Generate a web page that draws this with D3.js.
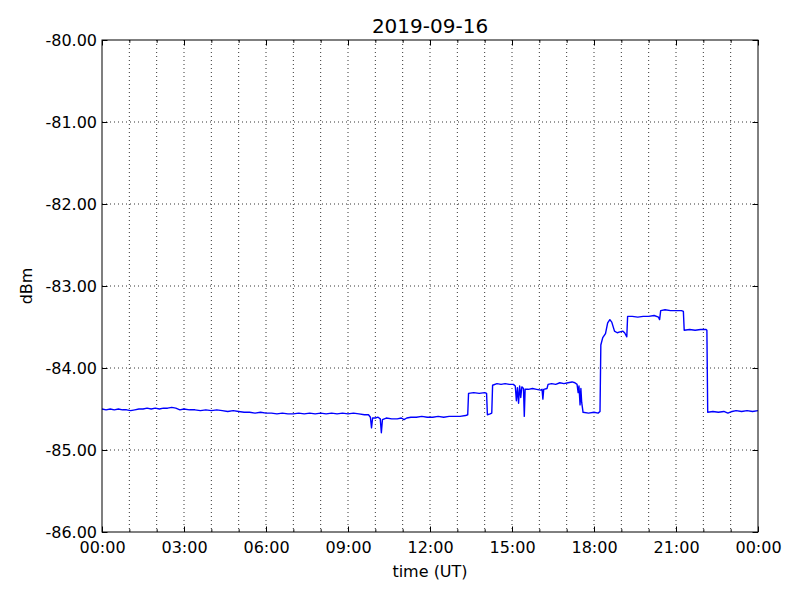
<!DOCTYPE html>
<html>
<head>
<meta charset="utf-8">
<script src="https://cdn.jsdelivr.net/npm/d3@7"></script>
<style>
  body { margin: 0; background: #fff; }
  svg text { font-family: "DejaVu Sans", sans-serif; fill: #000; }
</style>
</head>
<body>
<svg id="chart" width="800" height="600"></svg>
<script>
// --- Data ---
const title = "2019-09-16";
const xLabel = "time (UT)";
const yLabel = "dBm";
const yTicks = [-86, -85, -84, -83, -82, -81, -80];
const majorHours = [0, 3, 6, 9, 12, 15, 18, 21, 24];

// [hour of day (UT), level in dBm]
const trace = [
    [0.00,-84.50],[0.15,-84.51],[0.30,-84.50],[0.45,-84.51],[0.60,-84.50],[0.75,-84.51],
    [0.90,-84.51],[1.05,-84.52],[1.20,-84.51],[1.35,-84.50],[1.50,-84.50],[1.65,-84.49],
    [1.80,-84.50],[1.95,-84.49],[2.10,-84.50],[2.25,-84.49],[2.40,-84.49],[2.55,-84.48],
    [2.70,-84.49],[2.85,-84.51],[3.00,-84.50],[3.20,-84.51],[3.40,-84.51],[3.60,-84.52],
    [3.80,-84.51],[4.00,-84.52],[4.20,-84.51],[4.40,-84.52],[4.60,-84.53],[4.80,-84.52],
    [5.00,-84.53],[5.20,-84.54],[5.40,-84.54],[5.60,-84.55],[5.80,-84.54],[6.00,-84.55],
    [6.20,-84.55],[6.40,-84.56],[6.60,-84.55],[6.80,-84.56],[7.00,-84.56],[7.20,-84.55],
    [7.40,-84.56],[7.60,-84.55],[7.80,-84.56],[8.00,-84.55],[8.20,-84.56],[8.40,-84.55],
    [8.60,-84.56],[8.80,-84.55],[9.00,-84.56],[9.20,-84.55],[9.40,-84.56],[9.60,-84.57],
    [9.75,-84.57],[9.82,-84.60],[9.86,-84.73],[9.90,-84.61],[10.00,-84.61],[10.10,-84.60],
    [10.18,-84.62],[10.22,-84.79],[10.26,-84.63],[10.40,-84.61],[10.60,-84.62],[10.80,-84.62],
    [10.95,-84.61],[11.05,-84.63],[11.15,-84.61],[11.30,-84.60],[11.50,-84.60],[11.70,-84.59],
    [11.90,-84.60],[12.10,-84.60],[12.30,-84.59],[12.50,-84.60],[12.70,-84.59],[12.90,-84.59],
    [13.10,-84.59],[13.30,-84.58],[13.38,-84.57],[13.41,-84.31],[13.60,-84.30],[13.80,-84.31],
    [14.00,-84.30],[14.07,-84.31],[14.10,-84.57],[14.20,-84.56],[14.26,-84.55],[14.29,-84.21],
    [14.45,-84.19],[14.60,-84.20],[14.75,-84.19],[14.90,-84.20],[15.05,-84.20],[15.12,-84.22],
    [15.16,-84.40],[15.20,-84.24],[15.24,-84.43],[15.28,-84.22],[15.32,-84.36],[15.36,-84.23],
    [15.42,-84.25],[15.45,-84.59],[15.48,-84.26],[15.60,-84.26],[15.75,-84.25],[15.90,-84.26],
    [16.05,-84.27],[16.10,-84.26],[16.13,-84.38],[16.16,-84.26],[16.28,-84.25],[16.32,-84.20],
    [16.45,-84.19],[16.60,-84.20],[16.75,-84.18],[16.90,-84.19],[17.05,-84.18],[17.20,-84.17],
    [17.30,-84.18],[17.38,-84.20],[17.42,-84.30],[17.45,-84.22],[17.49,-84.45],[17.52,-84.25],
    [17.55,-84.42],[17.60,-84.54],[17.80,-84.55],[18.00,-84.54],[18.15,-84.55],[18.22,-84.53],
    [18.25,-83.72],[18.32,-83.63],[18.42,-83.58],[18.50,-83.45],[18.58,-83.41],[18.65,-83.44],
    [18.75,-83.55],[18.85,-83.57],[18.95,-83.56],[19.05,-83.55],[19.12,-83.57],[19.20,-83.62],
    [19.23,-83.37],[19.40,-83.37],[19.60,-83.38],[19.80,-83.37],[20.00,-83.37],[20.20,-83.36],
    [20.36,-83.38],[20.40,-83.41],[20.44,-83.30],[20.60,-83.29],[20.80,-83.30],[21.00,-83.30],
    [21.20,-83.30],[21.27,-83.31],[21.30,-83.54],[21.50,-83.53],[21.70,-83.54],[21.90,-83.53],
    [22.10,-83.53],[22.13,-83.54],[22.16,-84.54],[22.35,-84.53],[22.55,-84.54],[22.75,-84.53],
    [22.90,-84.55],[23.05,-84.53],[23.20,-84.52],[23.40,-84.53],[23.60,-84.52],[23.80,-84.53],
    [24.00,-84.52]
];

// --- Layout ---
const margin = { top: 40, right: 42, bottom: 68, left: 102 };
const width = 800 - margin.left - margin.right;
const height = 600 - margin.top - margin.bottom;

const day0 = Date.UTC(2019, 8, 16);
const toDate = h => new Date(day0 + h * 3600 * 1000);

const x = d3.scaleUtc()
    .domain([toDate(0), toDate(24)])
    .range([0, width]);

const y = d3.scaleLinear()
    .domain([-86, -80])
    .range([height, 0]);

const svg = d3.select("#chart");
const g = svg.append("g").attr("transform", `translate(${margin.left},${margin.top})`);

const hourTicks = d3.range(0, 25).map(toDate);
const majorTicks = majorHours.map(toDate);
const minorTicks = hourTicks.filter(d => !majorTicks.some(m => +m === +d));

// --- Grid (dotted) ---
g.append("g")
    .selectAll("line")
    .data(hourTicks.slice(1, -1))
    .join("line")
    .attr("x1", d => x(d)).attr("x2", d => x(d))
    .attr("y1", 0).attr("y2", height)
    .attr("stroke", "#000").attr("stroke-width", 0.8)
    .attr("stroke-dasharray", "1,3");

g.append("g")
    .selectAll("line")
    .data(yTicks.slice(1, -1))
    .join("line")
    .attr("x1", 0).attr("x2", width)
    .attr("y1", d => y(d)).attr("y2", d => y(d))
    .attr("stroke", "#000").attr("stroke-width", 0.8)
    .attr("stroke-dasharray", "1,3");

// --- Line ---
const line = d3.line()
    .x(d => x(toDate(d[0])))
    .y(d => y(d[1]));

g.append("path")
    .datum(trace)
    .attr("fill", "none")
    .attr("stroke", "#0000ff")
    .attr("stroke-width", 1.4)
    .attr("stroke-linejoin", "round")
    .attr("d", line);

// --- Axes (inward ticks on all four sides, classic style) ---
const fmt = d3.utcFormat("%H:%M");

function styleAxis(sel) {
    sel.select(".domain").remove();
    sel.selectAll(".tick line").attr("stroke", "#000").attr("stroke-width", 1);
    sel.selectAll(".tick text").attr("font-size", 16).attr("font-family", "DejaVu Sans");
}

const xBottom = g.append("g").attr("transform", `translate(0,${height})`)
    .call(d3.axisBottom(x).tickValues(majorTicks).tickFormat(fmt).tickSize(-5.5).tickPadding(0))
    .call(styleAxis);
xBottom.selectAll(".tick text").attr("dy", null).attr("y", 21);

g.append("g").attr("transform", `translate(0,${height})`)
    .call(d3.axisBottom(x).tickValues(minorTicks).tickFormat("").tickSize(-2.8))
    .call(styleAxis);

g.append("g")
    .call(d3.axisTop(x).tickValues(majorTicks).tickFormat("").tickSize(-5.5))
    .call(styleAxis);
g.append("g")
    .call(d3.axisTop(x).tickValues(minorTicks).tickFormat("").tickSize(-2.8))
    .call(styleAxis);

const yLeft = g.append("g")
    .call(d3.axisLeft(y).tickValues(yTicks).tickFormat(d3.format(".2f")).tickSize(-5.5).tickPadding(0))
    .call(styleAxis);
yLeft.selectAll(".tick text")
    .text(d => d3.format(".2f")(d).replace("\u2212", "-"))
    .attr("x", -5).attr("dy", "0.37em");

g.append("g").attr("transform", `translate(${width},0)`)
    .call(d3.axisRight(y).tickValues(yTicks).tickFormat("").tickSize(-5.5))
    .call(styleAxis);

// --- Frame ---
g.append("rect")
    .attr("width", width).attr("height", height)
    .attr("fill", "none").attr("stroke", "#000").attr("stroke-width", 1);

// --- Labels ---
svg.append("text")
    .attr("x", margin.left + width / 2).attr("y", 33)
    .attr("text-anchor", "middle").attr("font-size", 20)
    .text(title);

svg.append("text")
    .attr("x", margin.left + width / 2).attr("y", 577)
    .attr("text-anchor", "middle").attr("font-size", 16)
    .text(xLabel);

svg.append("text")
    .attr("transform", `translate(32,${margin.top + height / 2}) rotate(-90)`)
    .attr("text-anchor", "middle").attr("font-size", 16)
    .text(yLabel);
</script>
</body>
</html>
